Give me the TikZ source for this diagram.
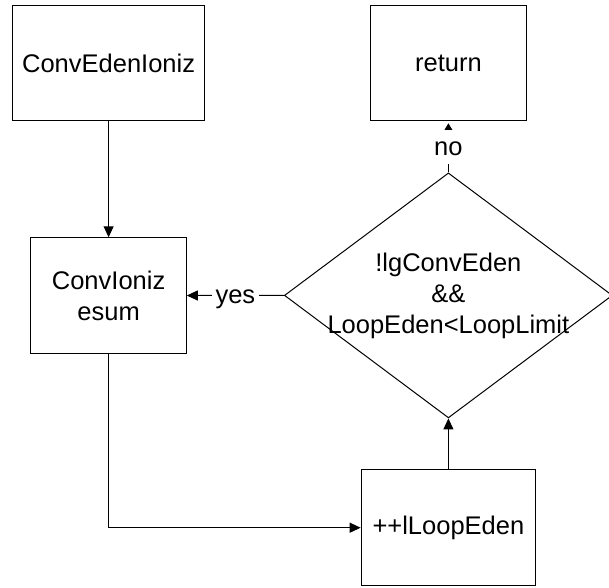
\documentclass[tikz,border=0pt]{standalone}
\usepackage{fontspec}
\setmainfont{Liberation Sans}
\usetikzlibrary{arrows.meta,shapes.geometric}
\begin{document}
\begin{tikzpicture}[x=1pt,y=-1pt,
  every node/.style={font=\fontsize{25.5}{31}\selectfont},
  box/.style={draw, line width=1pt, inner sep=0pt, minimum height=115.5pt, align=center},
  decision/.style={draw, line width=1pt, shape=diamond, inner sep=0pt,
                   minimum width=328pt, minimum height=245pt},
  flow/.style={line width=1pt, -{Triangle[length=11pt,width=10pt]}},
  flowsmall/.style={line width=1pt, -{Triangle[length=6.5pt,width=7.5pt]}, shorten >=2pt},
  tag/.style={fill=white, inner xsep=3.5pt, inner ysep=4.5pt, text height=21pt, text depth=4pt}]
  \useasboundingbox (0,0) rectangle (609,587);
  \clip (0,0) rectangle (609,587);

  % process boxes
  \node[box, minimum width=192pt]   (init) at (108.6,63)    {ConvEdenIoniz};
  \node[box, minimum width=155.3pt] (done) at (448.4,63)    {return};
  \node[box, minimum width=155.4pt] (sum)  at (108.6,295.5) {ConvIoniz\\esum};
  \node[box, minimum width=174.5pt] (incr) at (448.4,527.7) {++lLoopEden};

  % loop test
  \node[decision] (test) at (448.4,295.4) {};
  \node[align=center] (cond) at (test.center) {!lgConvEden\\\&\&\\LoopEden<LoopLimit};

  % connectors
  \draw[flow] (init.south) -- (sum.north);
  \draw[flow] (test.west) -- node[tag] {yes} (sum.east);
  \draw[flowsmall] (test.north) -- node[tag] {no} (done.south);
  \draw[flow] (incr.north) -- (test.south);
  \draw[flow] (sum.south) |- (incr.west);
\end{tikzpicture}
\end{document}
